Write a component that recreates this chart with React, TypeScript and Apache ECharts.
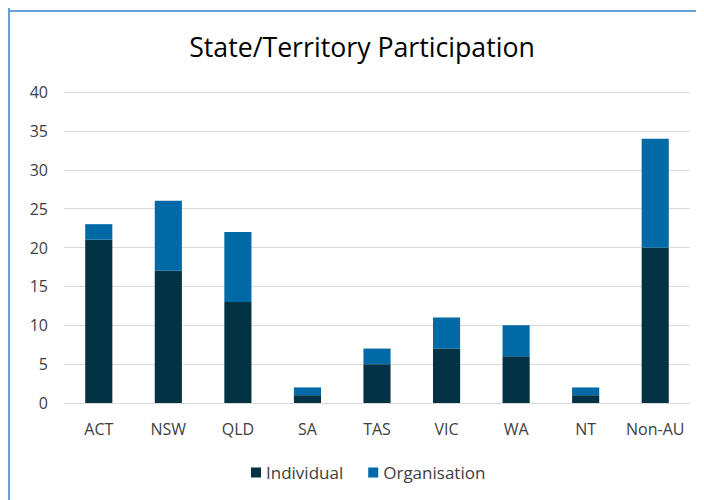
import React, { useEffect, useRef } from "react";
import * as echarts from "echarts";

const categories = ["ACT", "NSW", "QLD", "SA", "TAS", "VIC", "WA", "NT", "Non-AU"];
const individual = [21, 17, 13, 1, 5, 7, 6, 1, 20];
const organisation = [2, 9, 9, 1, 2, 4, 4, 1, 14];
const seriesNames = ["Individual", "Organisation"];
const titleText = "State/Territory Participation";

const FONT = "'Open Sans', sans-serif";
const BORDER = "#6a9fd8";

export default function App() {
  const ref = useRef<HTMLDivElement>(null);
  useEffect(() => {
    document.body.style.overflow = "hidden";
    document.documentElement.style.overflow = "hidden";
    const chart = echarts.init(ref.current!, null, { renderer: "svg" });
    chart.setOption({
      animation: false,
      backgroundColor: "#ffffff",
      title: {
        text: titleText,
        left: 349,
        top: 20,
        textAlign: "center",
        textStyle: { fontFamily: FONT, fontSize: 26.7, fontWeight: "normal", color: "#000000" },
      },
      legend: {
        data: seriesNames,
        left: 238,
        top: 451,
        itemWidth: 10,
        itemHeight: 10,
        itemGap: 25,
        icon: "rect",
        textStyle: { fontFamily: FONT, fontSize: 17, color: "#404040" },
      },
      graphic: [
        { type: "rect", shape: { x: 0, y: 0, width: 2, height: 492 }, style: { fill: BORDER } },
        { type: "rect", shape: { x: 0, y: 2, width: 696, height: 2 }, style: { fill: BORDER } },
      ],
      grid: { left: 56, right: 14, top: 84, bottom: 97 },
      xAxis: {
        type: "category",
        data: categories,
        axisTick: { show: false },
        axisLine: { lineStyle: { color: "#d9d9d9", width: 1 } },
        axisLabel: { fontFamily: FONT, fontSize: 16, color: "#404040", margin: 18, interval: 0 },
      },
      yAxis: {
        type: "value",
        min: 0,
        max: 40,
        interval: 5,
        axisLine: { show: false },
        axisTick: { show: false },
        splitLine: { lineStyle: { color: "#d9d9d9", width: 1 } },
        axisLabel: { fontFamily: FONT, fontSize: 16, color: "#404040", margin: 16 },
      },
      series: [
        {
          name: seriesNames[0],
          type: "bar",
          stack: "total",
          data: individual,
          barWidth: "39%",
          itemStyle: { color: "#033245" },
        },
        {
          name: seriesNames[1],
          type: "bar",
          stack: "total",
          data: organisation,
          barWidth: "39%",
          itemStyle: { color: "#0069a6" },
        },
      ],
    });
    return () => chart.dispose();
  }, []);
  return <div ref={ref} style={{ width: 696, height: 492 }} />;
}
